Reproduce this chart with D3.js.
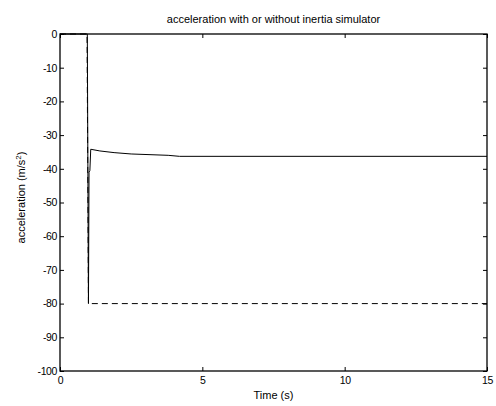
<!DOCTYPE html>
<html>
<head>
<meta charset="utf-8">
<script src="https://cdn.jsdelivr.net/npm/d3@7"></script>
<style>
  html, body { margin: 0; padding: 0; background: #fff; }
  svg { display: block; }
  text { font-family: "Liberation Sans", Arial, sans-serif; fill: #000; }
</style>
</head>
<body>
<svg id="chart" width="496" height="406"></svg>
<script>
// Time samples (s) and acceleration (m/s^2) for both runs
const timeWith = [0, 0.96, 1.0, 1.02, 1.05, 1.08, 1.4, 1.9, 2.5, 3.8, 4.2, 15];
const accWith  = [0, 0, -80, -41, -40.5, -34.2, -34.7, -35.2, -35.6, -36.0, -36.3, -36.3];
const timeWithout = [0, 0.95, 1.0, 15];
const accWithout  = [0, 0, -80, -80];

const xTicks = [0, 5, 10, 15];
const yTicks = [0, -10, -20, -30, -40, -50, -60, -70, -80, -90, -100];

const titleText = "acceleration with or without inertia simulator";
const xLabel = "Time (s)";

const margin = { left: 60, top: 34, right: 9, bottom: 35 };
const W = 496, H = 406;
const pw = W - margin.left - margin.right;
const ph = H - margin.top - margin.bottom;

const svg = d3.select("#chart");
const g = svg.append("g").attr("transform", `translate(${margin.left},${margin.top})`);

const x = d3.scaleLinear().domain([0, 15]).range([0, pw]);
const y = d3.scaleLinear().domain([-100, 0]).range([ph, 0]);

const labelSize = 11;
const tickSize = 10.5;
// plain hyphen for negative numbers
const fmt = d => String(d);

function styleAxis(sel) {
  sel.select(".domain").remove();
  sel.selectAll(".tick line").attr("stroke", "#000").attr("stroke-width", 1);
  sel.selectAll("text").attr("font-size", tickSize)
    .attr("font-family", "Liberation Sans, Arial, sans-serif")
    .attr("letter-spacing", -0.4);
}

// bottom axis with labels
g.append("g").attr("transform", `translate(0,${ph})`)
  .call(d3.axisBottom(x).tickValues(xTicks).tickSize(-4).tickPadding(6).tickFormat(fmt))
  .call(styleAxis);
// top axis, ticks only
g.append("g")
  .call(d3.axisTop(x).tickValues(xTicks).tickSize(-4).tickFormat(""))
  .call(styleAxis);
// left axis with labels
g.append("g")
  .call(d3.axisLeft(y).tickValues(yTicks).tickSize(-4).tickPadding(3).tickFormat(fmt))
  .call(styleAxis);
// right axis, ticks only
g.append("g").attr("transform", `translate(${pw},0)`)
  .call(d3.axisRight(y).tickValues(yTicks).tickSize(-4).tickFormat(""))
  .call(styleAxis);

// data lines
const line = d3.line().x(d => x(d[0])).y(d => y(d[1]));
const solidData = timeWith.map((t, i) => [t, accWith[i]]);
const dashedData = timeWithout.map((t, i) => [t, accWithout[i]]);

g.append("path").datum(solidData)
  .attr("d", line).attr("fill", "none").attr("stroke", "#000").attr("stroke-width", 1);
g.append("path").datum(dashedData)
  .attr("d", line).attr("fill", "none").attr("stroke", "#000").attr("stroke-width", 1)
  .attr("stroke-dasharray", "6,4");

// axes box
g.append("rect").attr("x", 0).attr("y", 0).attr("width", pw).attr("height", ph)
  .attr("fill", "none").attr("stroke", "#000").attr("stroke-width", 1.3);

// title
svg.append("text").attr("x", margin.left + pw / 2).attr("y", 23)
  .attr("text-anchor", "middle").attr("font-size", labelSize).text(titleText);

// x label
svg.append("text").attr("x", margin.left + pw / 2).attr("y", 399)
  .attr("text-anchor", "middle").attr("font-size", labelSize).text(xLabel);

// y label with superscript
const yl = svg.append("text")
  .attr("transform", `translate(25,${margin.top + ph / 2 - 5}) rotate(-90)`)
  .attr("text-anchor", "middle").attr("font-size", labelSize);
yl.append("tspan").text("acceleration (m/s");
yl.append("tspan").attr("dy", -4).attr("font-size", 8).text("2");
yl.append("tspan").attr("dy", 4).text(")");
</script>
</body>
</html>
